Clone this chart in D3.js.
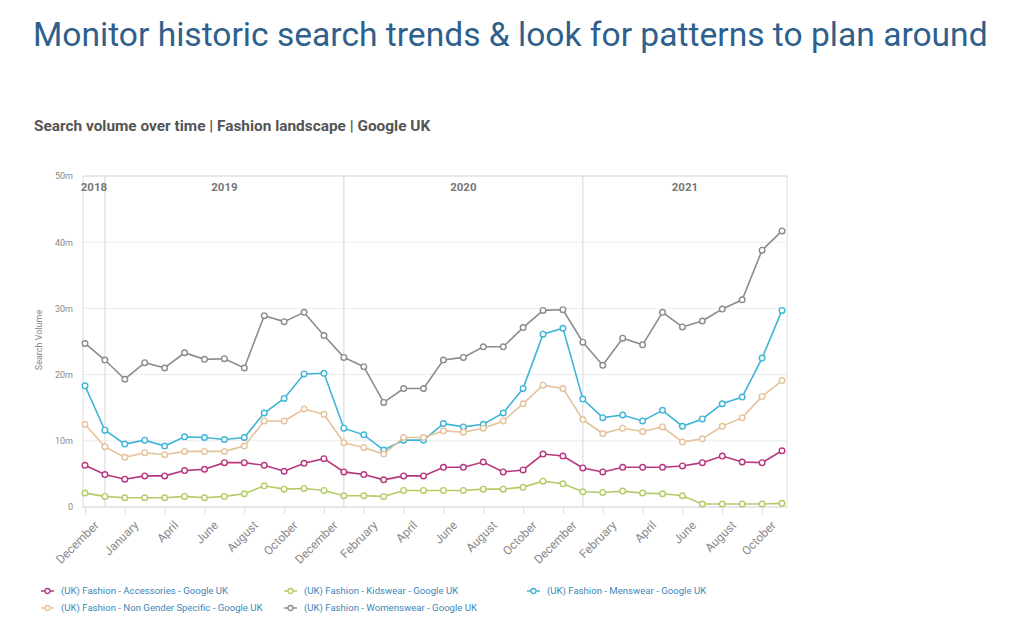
<!DOCTYPE html>
<html>
<head>
<meta charset="utf-8">
<script src="https://cdn.jsdelivr.net/npm/d3@7"></script>
<style>
  body { margin: 0; background: #fff; font-family: Roboto, "Noto Sans", sans-serif; }
</style>
</head>
<body>
<div id="chart"></div>
<script>
// months on the x axis (Dec 2018 .. Nov 2021)
const months = [
  "2018-12",
  "2019-01","2019-02","2019-03","2019-04","2019-05","2019-06","2019-07","2019-08","2019-09","2019-10","2019-11","2019-12",
  "2020-01","2020-02","2020-03","2020-04","2020-05","2020-06","2020-07","2020-08","2020-09","2020-10","2020-11","2020-12",
  "2021-01","2021-02","2021-03","2021-04","2021-05","2021-06","2021-07","2021-08","2021-09","2021-10","2021-11"
];

// tick labels, one every two months (as printed on the original)
const tickLabels = ["December","January","April","June","August","October","December","February","April",
  "June","August","October","December","February","April","June","August","October"];

const years = ["2018", "2019", "2020", "2021"];
const yTicks = [0, 10, 20, 30, 40, 50];

// search volume, millions
const accessories = [6.3, 4.9, 4.2, 4.7, 4.7, 5.5, 5.7, 6.7, 6.7, 6.3, 5.4, 6.6, 7.3,
  5.3, 4.9, 4.1, 4.7, 4.7, 6.0, 6.0, 6.8, 5.3, 5.6, 8.0, 7.7,
  5.9, 5.3, 6.0, 6.0, 6.0, 6.2, 6.7, 7.7, 6.8, 6.7, 8.5];
const kidswear = [2.1, 1.6, 1.4, 1.4, 1.4, 1.6, 1.4, 1.6, 2.0, 3.2, 2.7, 2.8, 2.5,
  1.7, 1.7, 1.6, 2.5, 2.5, 2.5, 2.5, 2.7, 2.7, 3.0, 3.9, 3.5,
  2.3, 2.2, 2.4, 2.1, 2.0, 1.7, 0.45, 0.45, 0.45, 0.45, 0.55];
const menswear = [18.3, 11.6, 9.5, 10.1, 9.2, 10.6, 10.5, 10.2, 10.5, 14.2, 16.4, 20.1, 20.2,
  11.9, 10.9, 8.6, 10.1, 10.1, 12.6, 12.1, 12.5, 14.2, 17.9, 26.1, 27.0,
  16.3, 13.5, 13.9, 13.0, 14.6, 12.2, 13.3, 15.6, 16.6, 22.5, 29.7];
const nonGender = [12.5, 9.1, 7.5, 8.2, 7.9, 8.4, 8.4, 8.4, 9.2, 13.0, 13.0, 14.8, 14.0,
  9.7, 9.0, 8.0, 10.5, 10.5, 11.5, 11.3, 11.9, 13.0, 15.6, 18.4, 17.9,
  13.2, 11.1, 11.9, 11.4, 12.1, 9.8, 10.3, 12.2, 13.5, 16.7, 19.1];
const womenswear = [24.7, 22.2, 19.3, 21.8, 21.0, 23.3, 22.3, 22.4, 21.0, 28.9, 28.0, 29.4, 25.9,
  22.6, 21.2, 15.8, 17.9, 17.9, 22.2, 22.6, 24.2, 24.2, 27.1, 29.7, 29.8,
  24.9, 21.4, 25.5, 24.5, 29.4, 27.2, 28.1, 29.9, 31.3, 38.8, 41.7];

const seriesNames = [
  "(UK) Fashion - Accessories - Google UK",
  "(UK) Fashion - Kidswear - Google UK",
  "(UK) Fashion - Menswear - Google UK",
  "(UK) Fashion - Non Gender Specific - Google UK",
  "(UK) Fashion - Womenswear - Google UK"
];
const seriesValues = [accessories, kidswear, menswear, nonGender, womenswear];
const seriesColors = ["#b8367f", "#b3cc66", "#3fb5d6", "#e6c29a", "#8c8c8c"];

const width = 1024, height = 643;
const plot = { left: 83, right: 787, top: 176, bottom: 507 };

const svg = d3.select('#chart').append('svg')
  .attr('width', width)
  .attr('height', height);

// title + subtitle
svg.append('text')
  .attr('x', 33).attr('y', 46)
  .attr('font-size', 33.6)
  .attr('fill', '#2f5f8c')
  .text('Monitor historic search trends & look for patterns to plan around');

svg.append('text')
  .attr('x', 34).attr('y', 131)
  .attr('font-size', 15.4)
  .attr('font-weight', 'bold')
  .attr('fill', '#555')
  .text('Search volume over time | Fashion landscape | Google UK');

const x = d3.scalePoint().domain(months).range([85, 782]);
const y = d3.scaleLinear().domain([0, 50]).range([plot.bottom, plot.top]);

// gridlines
svg.append('g').selectAll('line')
  .data(yTicks.slice(1))
  .enter().append('line')
  .attr('x1', plot.left).attr('x2', plot.right)
  .attr('y1', d => y(d)).attr('y2', d => y(d))
  .attr('stroke', '#ececec');

// plot border
svg.append('rect')
  .attr('x', plot.left).attr('y', plot.top)
  .attr('width', plot.right - plot.left)
  .attr('height', plot.bottom - plot.top)
  .attr('fill', 'none')
  .attr('stroke', '#dedede');

// y axis
const yAxis = d3.axisLeft(y).tickValues(yTicks)
  .tickSize(0).tickPadding(10)
  .tickFormat(d => d === 0 ? '0' : d + 'm');
const yg = svg.append('g').attr('transform', `translate(${plot.left},0)`).call(yAxis);
yg.select('.domain').remove();
yg.selectAll('text').attr('font-size', 9).attr('fill', '#888').attr('font-family', 'Roboto');

svg.append('text')
  .attr('transform', 'translate(42,340) rotate(-90)')
  .attr('text-anchor', 'middle')
  .attr('font-size', 9)
  .attr('fill', '#888')
  .text('Search Volume');

// year dividers + labels
const yearStarts = [0, 1, 13, 25];
const bounds = yearStarts.map((i, k) => k === 0 ? plot.left : x(months[i]));
bounds.push(plot.right);
svg.append('g').selectAll('line')
  .data(bounds.slice(1, 4))
  .enter().append('line')
  .attr('x1', d => d).attr('x2', d => d)
  .attr('y1', plot.top).attr('y2', plot.bottom)
  .attr('stroke', '#d6d6d6');
svg.append('g').selectAll('text')
  .data(years)
  .enter().append('text')
  .attr('x', (d, i) => (bounds[i] + bounds[i + 1]) / 2)
  .attr('y', 191)
  .attr('text-anchor', 'middle')
  .attr('font-size', 11.5)
  .attr('font-weight', 'bold')
  .attr('fill', '#777')
  .text(d => d);

// x axis
const tickMonths = months.filter((m, i) => i % 2 === 0);
const xAxis = d3.axisBottom(x).tickValues(tickMonths)
  .tickSize(7).tickPadding(3)
  .tickFormat((d, i) => tickLabels[i]);
const xg = svg.append('g').attr('transform', `translate(0,${plot.bottom})`).call(xAxis);
xg.select('.domain').attr('d', `M${plot.left},0H${plot.right}`).attr('stroke', '#dedede');
xg.selectAll('.tick line').attr('stroke', '#dedede');
xg.selectAll('text')
  .attr('font-size', 12)
  .attr('font-family', 'Roboto')
  .attr('fill', '#8a8a8a')
  .attr('text-anchor', 'end')
  .attr('dy', '0.35em')
  .attr('transform', 'translate(4,9) rotate(-45)');

// lines
const line = d3.line()
  .x((d, i) => x(months[i]))
  .y(d => y(d));

const seriesG = svg.append('g').selectAll('g')
  .data(seriesValues)
  .enter().append('g');

seriesG.append('path')
  .attr('d', d => line(d))
  .attr('fill', 'none')
  .attr('stroke', (d, i) => seriesColors[i])
  .attr('stroke-width', 1.6);

seriesG.each(function (vals, si) {
  d3.select(this).selectAll('circle')
    .data(vals)
    .enter().append('circle')
    .attr('cx', (d, i) => x(months[i]))
    .attr('cy', d => y(d))
    .attr('r', 2.8)
    .attr('fill', '#fff')
    .attr('stroke', seriesColors[si])
    .attr('stroke-width', 1.4);
});

// legend
const legendPos = [[41, 591], [284, 591], [527, 591], [41, 608], [284, 608]];
const legend = svg.append('g').selectAll('g')
  .data(seriesNames)
  .enter().append('g')
  .attr('transform', (d, i) => `translate(${legendPos[i][0]},${legendPos[i][1]})`);
legend.append('line')
  .attr('x1', 0).attr('x2', 13)
  .attr('stroke', (d, i) => seriesColors[i])
  .attr('stroke-width', 1.5);
legend.append('circle')
  .attr('cx', 6.5).attr('r', 2.5)
  .attr('fill', '#fff')
  .attr('stroke', (d, i) => seriesColors[i])
  .attr('stroke-width', 1.3);
legend.append('text')
  .attr('x', 20).attr('dy', '0.35em')
  .attr('font-size', 9.6)
  .attr('fill', '#3d86b8')
  .text(d => d);
</script>
</body>
</html>
